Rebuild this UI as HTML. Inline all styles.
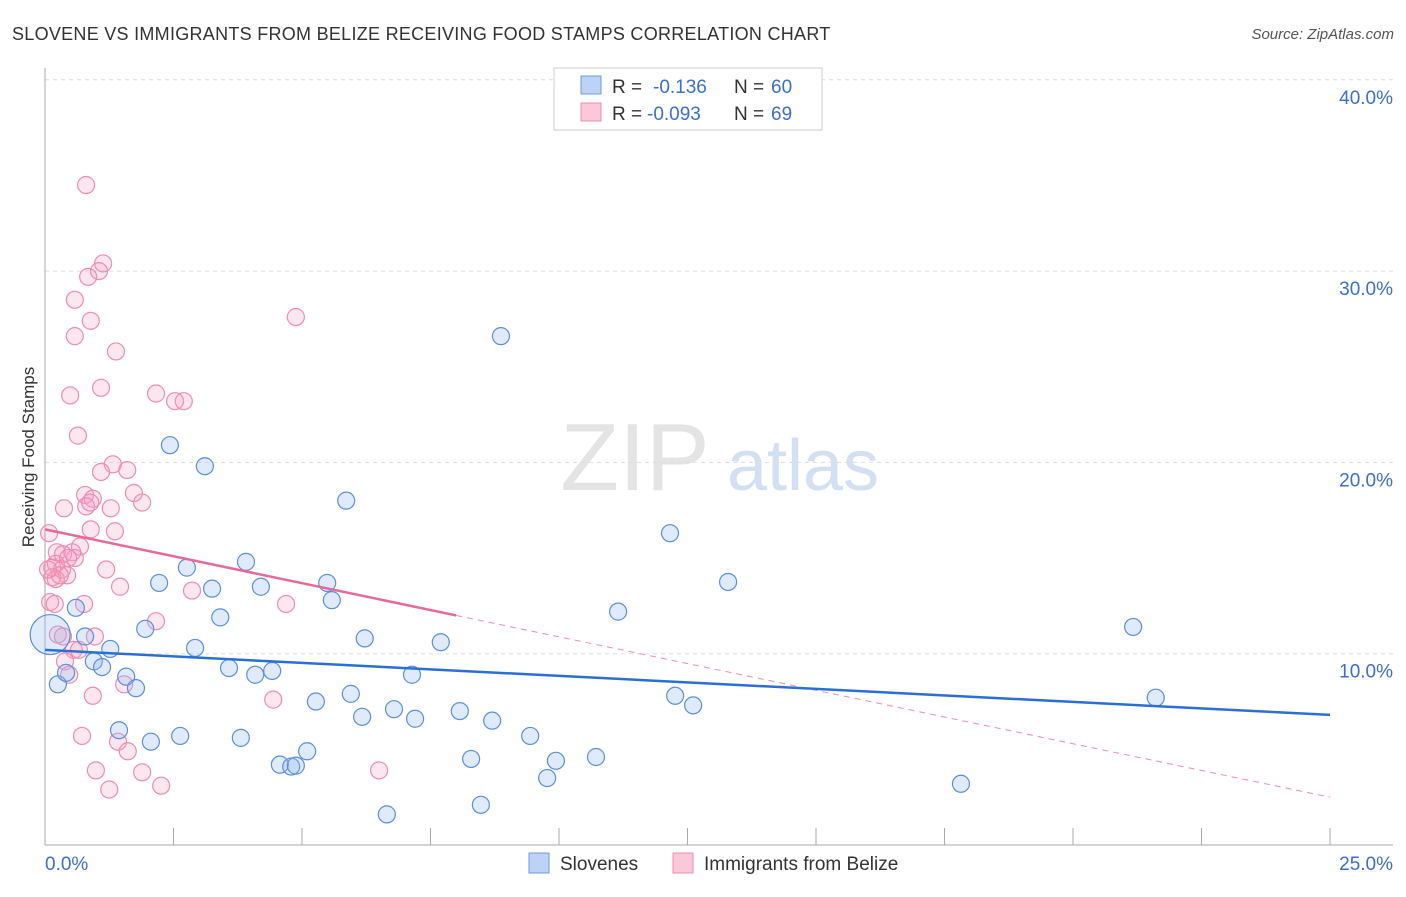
<!DOCTYPE html>
<html><head><meta charset="utf-8"><style>
body{margin:0;background:#fff;font-family:"Liberation Sans",sans-serif}
svg text{font-family:"Liberation Sans",sans-serif}
</style></head><body>
<svg id="c" width="1406" height="892">
<text x="12" y="40" font-size="18" letter-spacing="0.28" fill="#333">SLOVENE VS IMMIGRANTS FROM BELIZE RECEIVING FOOD STAMPS CORRELATION CHART</text>
<text x="1394" y="39" font-size="15" fill="#555" text-anchor="end" font-style="italic">Source: ZipAtlas.com</text>
<text x="0" y="0" transform="translate(34,457) rotate(-90)" font-size="17" fill="#333" text-anchor="middle">Receiving Food Stamps</text>
<g><text x="635" y="490" font-size="96" fill="#e4e4e4" text-anchor="middle" font-family="Liberation Serif">ZIP</text><text x="803" y="490" font-size="72" fill="#d3e0f3" text-anchor="middle">atlas</text></g>
<g id="grid"></g><g id="pts"></g><g id="lines"></g>
<g>
<rect x="554" y="68" width="268" height="62" fill="#fff" stroke="#ccc"/>
<rect x="581" y="76" width="20" height="18" fill="#bcd3f5" stroke="#6b9be0"/>
<text x="612" y="93" font-size="19" fill="#333">R =</text><text x="653" y="93" font-size="19" fill="#3b6fd1">-0.136</text>
<text x="734" y="93" font-size="19" fill="#333">N =</text><text x="771" y="93" font-size="19" fill="#3b6fd1">60</text>
<rect x="581" y="103" width="20" height="18" fill="#fac8d8" stroke="#f08cae"/>
<text x="612" y="120" font-size="19" fill="#333">R =</text><text x="647" y="120" font-size="19" fill="#3b6fd1">-0.093</text>
<text x="734" y="120" font-size="19" fill="#333">N =</text><text x="771" y="120" font-size="19" fill="#3b6fd1">69</text>
</g>
<g>
<rect x="529" y="853" width="20" height="20" fill="#bcd3f5" stroke="#6b9be0"/><text x="560" y="870" font-size="19" fill="#333">Slovenes</text>
<rect x="673" y="853" width="20" height="20" fill="#fac8d8" stroke="#f08cae"/><text x="704" y="870" font-size="19" fill="#333">Immigrants from Belize</text>
</g>
</svg>
<script>
const yTicks=[10,20,30,40];
const blueX=[8.87,2.43,3.11,5.86,12.16,3.91,2.76,2.22,3.25,4.2,5.49,13.29,5.58,11.15,3.41,0.6,1.95,21.17,6.22,7.7,0.78,2.92,1.27,0.95,1.11,3.58,4.09,4.42,7.14,1.58,0.25,0.41,1.77,5.95,5.27,12.26,12.61,21.61,6.79,6.17,7.2,8.07,8.7,1.44,2.63,9.44,2.06,3.81,5.1,4.57,4.79,4.88,8.29,9.94,10.72,9.77,17.82,8.48,6.65,0.1];
const blueY=[26.6,20.9,19.8,18.0,16.3,14.8,14.5,13.7,13.4,13.5,13.7,13.75,12.8,12.2,11.9,12.4,11.3,11.4,10.8,10.6,10.9,10.3,10.25,9.6,9.3,9.25,8.9,9.1,8.9,8.8,8.4,9.0,8.2,7.9,7.5,7.8,7.3,7.7,7.1,6.7,6.6,7.0,6.5,6.0,5.7,5.7,5.4,5.6,4.9,4.2,4.1,4.15,4.5,4.4,4.6,3.5,3.2,2.1,1.6,11.0];
const pinkX=[0.8,1.13,1.05,0.84,0.58,4.88,0.89,0.58,1.38,0.49,1.09,2.16,2.7,2.53,0.64,1.32,1.6,1.09,1.73,0.78,0.93,1.89,0.37,1.28,0.8,0.89,1.36,0.08,0.68,0.23,0.35,0.53,0.58,0.21,0.14,0.33,0.43,0.14,1.19,0.21,1.46,2.86,0.1,0.19,0.76,4.69,2.16,0.35,0.97,0.56,0.66,0.39,0.47,1.54,0.93,4.44,0.72,1.42,1.61,0.99,1.89,6.5,1.25,2.26,0.29,0.06,0.45,0.88,0.25];
const pinkY=[34.5,30.4,30.0,29.7,28.5,27.6,27.4,26.6,25.8,23.5,23.9,23.6,23.2,23.2,21.4,19.9,19.6,19.5,18.4,18.3,18.1,17.9,17.6,17.6,17.7,16.5,16.4,16.3,15.6,15.3,15.2,15.3,15.0,14.7,14.5,14.4,14.1,14.0,14.4,13.9,13.5,13.3,12.7,12.6,12.6,12.6,11.7,10.9,10.9,10.2,10.2,9.6,8.9,8.4,7.8,7.6,5.7,5.4,4.9,3.9,3.8,3.9,2.9,3.1,14.1,14.4,15.0,17.9,11.0];
const blueLine=[[0,10.2],[25,6.8]], pinkSolid=[[0,16.5],[8,12.0]], pinkDash=[[8,12.0],[25,2.5]];
const X=v=>45+v*51.4, Y=v=>845-v*19.13, NS="http://www.w3.org/2000/svg";
function mk(p,t,a){const e=document.createElementNS(NS,t);for(const k in a)e.setAttribute(k,a[k]);p.appendChild(e);return e;}
const g=document.getElementById('grid');
yTicks.forEach(t=>{const l=mk(g,'line',{x1:45,x2:1393,y1:Y(t),y2:Y(t),stroke:'#ddd','stroke-dasharray':'4 4'});


const tx=mk(g,'text',{x:1393,y:Y(t)+24,'font-size':19,fill:'#3b6fd1','text-anchor':'end'});tx.textContent=t.toFixed(1)+'%';

});
const ax=mk(g,'line',{x1:45,x2:45,y1:68,y2:845,stroke:'#aaa'});


const bx=mk(g,'line',{x1:45,x2:1393,y1:845,y2:845,stroke:'#aaa'});


for(let i=0;i<=10;i++){const tk=mk(g,'line',{x1:X(i*2.5),x2:X(i*2.5),y1:828,y2:845,stroke:'#aaa'});

}
[[0,'0.0%','start',45],[25,'25.0%','end',1393]].forEach(a=>{const t=mk(g,'text',{x:a[3],y:870,'font-size':19,fill:'#3b6fd1','text-anchor':a[2]});t.textContent=a[1];

});
const P=document.getElementById('pts');
pinkX.forEach((v,i)=>{const c=mk(P,'circle',{cx:X(v),cy:Y(pinkY[i]),r:8.5,fill:'rgba(245,160,190,0.25)',stroke:'#f08cae','stroke-width':1.2});

});
blueX.forEach((v,i)=>{const c=mk(P,'circle',{cx:X(v),cy:Y(blueY[i]),r:i==59?20:8.5,fill:'rgba(150,185,240,0.3)',stroke:'#5b8fe0','stroke-width':1.2});

});
const L=document.getElementById('lines');
function ln(d,col,w,dash,n){const l=mk(L,'line',{x1:X(d[0][0]),y1:Y(d[0][1]),x2:X(d[1][0]),y2:Y(d[1][1]),stroke:col,'stroke-width':w});if(dash)l.setAttribute('stroke-dasharray',dash);

}
ln(pinkDash,'#f08cae',1,'6 5','belize-trend-extension');
ln(pinkSolid,'#e8689a',2.5,null,'belize-trend-line');
ln(blueLine,'#2a6fd6',2.5,null,'slovene-trend-line');
</script>
</body></html>
